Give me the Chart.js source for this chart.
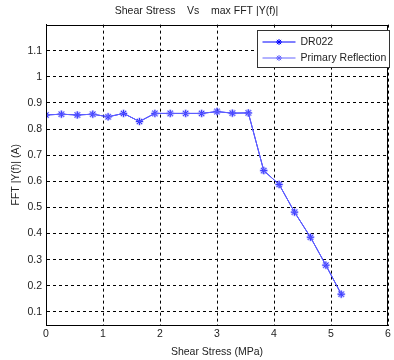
<!DOCTYPE html>
<html>
<head>
<meta charset="utf-8">
<script src="https://cdn.jsdelivr.net/npm/chart.js@4.4.0/dist/chart.umd.min.js"></script>
<style>
  html, body { margin: 0; background: #fff; }
</style>
</head>
<body>
<canvas id="chart" width="394" height="360"></canvas>
<script>
// Data
const shearStress = [0, 0.27, 0.55, 0.82, 1.09, 1.36, 1.64, 1.91, 2.18, 2.45, 2.73, 3.0, 3.27, 3.55, 3.82, 4.09, 4.36, 4.64, 4.91, 5.18];
const dr022 = [0.854, 0.857, 0.854, 0.857, 0.847, 0.860, 0.829, 0.860, 0.860, 0.860, 0.860, 0.867, 0.861, 0.862, 0.641, 0.588, 0.482, 0.386, 0.279, 0.168];
const primaryReflection = [0.854, 0.857, 0.854, 0.857, 0.847, 0.860, 0.829, 0.860, 0.860, 0.860, 0.860, 0.867, 0.861, 0.862, 0.641, 0.588, 0.482, 0.386, 0.279, 0.168];
const seriesLabels = ['DR022', 'Primary Reflection'];
const xTicks = [0, 1, 2, 3, 4, 5, 6];
const yTicks = [0.1, 0.2, 0.3, 0.4, 0.5, 0.6, 0.7, 0.8, 0.9, 1, 1.1];

const colors = ['#0000ff', '#6464ff'];
const fontFamily = '"Liberation Sans", Arial, sans-serif';

function toPoints(xs, ys) {
    return xs.map((x, i) => ({ x: x, y: ys[i] }));
}

// Draw a MATLAB style "*" marker
function drawStar(ctx, x, y, r) {
    const d = r * 0.707;
    ctx.beginPath();
    ctx.moveTo(x - r, y); ctx.lineTo(x + r, y);
    ctx.moveTo(x, y - r); ctx.lineTo(x, y + r);
    ctx.moveTo(x - d, y - d); ctx.lineTo(x + d, y + d);
    ctx.moveTo(x - d, y + d); ctx.lineTo(x + d, y - d);
    ctx.stroke();
}

// Box around the axes plus a boxed legend in the top right corner
const frameAndLegend = {
    id: 'frameAndLegend',
    afterDraw(chart) {
        const ctx = chart.ctx;
        const a = chart.chartArea;
        ctx.save();
        ctx.strokeStyle = '#000';
        ctx.lineWidth = 1;
        ctx.strokeRect(Math.round(a.left) + 0.5, Math.round(a.top) + 0.5,
            Math.round(a.right - a.left) - 1, Math.round(a.bottom - a.top));

        // legend
        const bx = 257.5, by = 30.5, bw = 132, bh = 37;
        ctx.fillStyle = '#fff';
        ctx.fillRect(bx, by, bw, bh);
        ctx.strokeStyle = '#333';
        ctx.strokeRect(bx, by, bw, bh);
        ctx.font = '10.5px ' + fontFamily;
        ctx.textBaseline = 'middle';
        seriesLabels.forEach((label, i) => {
            const y = by + 11.5 + i * 16;
            ctx.strokeStyle = colors[i];
            ctx.beginPath();
            ctx.moveTo(bx + 5, y); ctx.lineTo(bx + 38, y);
            ctx.stroke();
            drawStar(ctx, bx + 21.5, y, 3);
            ctx.fillStyle = '#222';
            ctx.fillText(label, bx + 43, y + 0.5);
        });
        ctx.restore();
    }
};

Chart.defaults.font.family = fontFamily;
Chart.defaults.font.size = 10.5;
Chart.defaults.color = '#222';

const tickLabel = (v) => String(+Number(v).toFixed(2));

const ctx = document.getElementById('chart').getContext('2d');
const chart = new Chart(ctx, {
    type: 'line',
    data: {
        datasets: [
            {
                label: seriesLabels[1],
                data: toPoints(shearStress, primaryReflection),
                borderColor: colors[1],
                backgroundColor: colors[1],
                borderWidth: 1,
                pointStyle: 'star',
                pointRadius: 4,
                pointBorderWidth: 2,
                pointBorderColor: 'rgba(100,100,255,0.5)',
                tension: 0,
                fill: false
            },
            {
                label: seriesLabels[0],
                data: toPoints(shearStress, dr022),
                borderColor: colors[0],
                backgroundColor: colors[0],
                borderWidth: 1,
                pointStyle: 'star',
                pointRadius: 3.5,
                pointBorderWidth: 1,
                tension: 0,
                fill: false
            }
        ]
    },
    options: {
        responsive: false,
        animation: false,
        layout: { padding: { left: 0, right: 1, top: 0, bottom: 0 } },
        plugins: {
            legend: { display: false },
            tooltip: { enabled: false },
            title: {
                display: true,
                text: 'Shear Stress    Vs    max FFT |Y(f)|',
                color: '#222',
                font: { size: 10.5, weight: 'normal' },
                padding: { top: 5, bottom: 7 }
            }
        },
        scales: {
            x: {
                type: 'linear',
                min: 0,
                max: 6,
                afterBuildTicks: (scale) => { scale.ticks = xTicks.map(v => ({ value: v })); },
                afterFit: (scale) => { scale.height = 35; scale.paddingLeft = 0; scale.paddingRight = 0; },
                ticks: { padding: 3, maxRotation: 0, callback: tickLabel },
                grid: { color: '#000', drawTicks: false, lineWidth: 1 },
                border: { display: true, color: '#000', dash: [3, 3] },
                title: { display: true, text: 'Shear Stress (MPa)', padding: { top: 2, bottom: 2 } }
            },
            y: {
                type: 'linear',
                min: 0.05,
                max: 1.2,
                afterBuildTicks: (scale) => { scale.ticks = yTicks.map(v => ({ value: v })); },
                afterFit: (scale) => { scale.width = 46; scale.paddingTop = 0; scale.paddingBottom = 0; },
                ticks: { padding: 4, callback: tickLabel },
                grid: { color: '#000', drawTicks: false, lineWidth: 1 },
                border: { display: true, color: '#000', dash: [3, 3] },
                title: { display: true, text: 'FFT |Y(f)| (A)', padding: { top: 10, bottom: 0 } }
            }
        }
    },
    plugins: [frameAndLegend]
});
</script>
</body>
</html>
